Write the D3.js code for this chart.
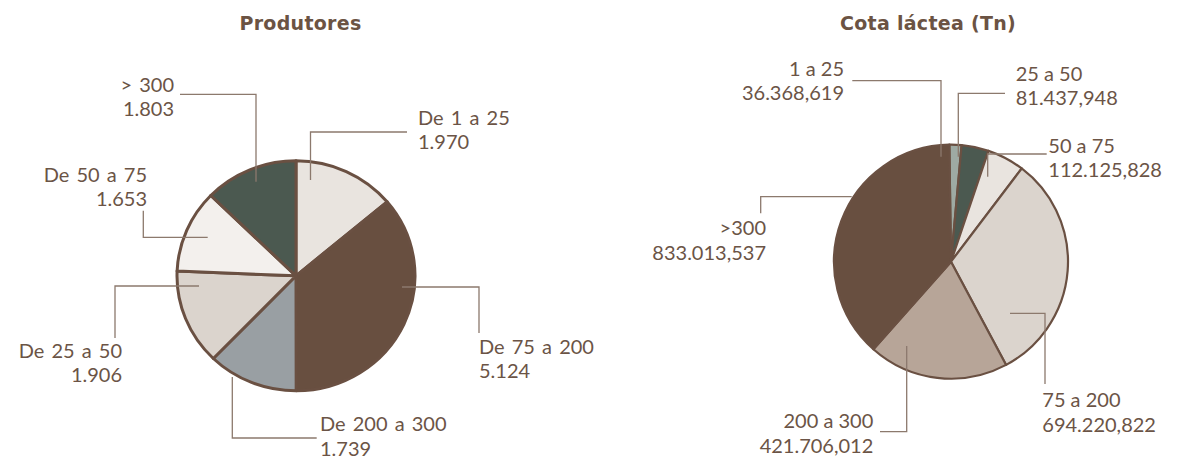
<!DOCTYPE html>
<html><head><meta charset="utf-8">
<script src="https://cdn.jsdelivr.net/npm/d3@7"></script>
<style>
html,body{margin:0;padding:0;background:#fff;}
svg{display:block;}
</style></head>
<body>
<svg id="chart" width="1193" height="458"></svg>
<script>
// ---------- data ----------
const prodTitle = "Produtores";
const prodCategories = ["De 1 a 25", "De 75 a 200", "De 200 a 300", "De 25 a 50", "De 50 a 75", "> 300"];
const prodValues = [1970, 5124, 1739, 1906, 1653, 1803];

const cotaTitle = "Cota láctea (Tn)";
const cotaCategories = ["1 a 25", "25 a 50", "50 a 75", "75 a 200", "200 a 300", ">300"];
const cotaValues = [36368.619, 81437.948, 112125.828, 694220.822, 421706.012, 833013.537];

// ---------- styles / layout ----------
const prodColors = ["#e9e4df", "#684f40", "#999fa3", "#dbd4cd", "#f3f0ed", "#4b5950"];
const cotaColors = ["#9eaaa3", "#4b5950", "#e9e4df", "#dbd4cd", "#b7a598", "#684f40"];
const textColor = "#6b5446";
const lineColor = "#8c796d";
const strokeColor = "#6a5042";

const ptLocale = d3.formatLocale({decimal: ",", thousands: ".", grouping: [3], currency: ["", ""]});
const fmtInt = ptLocale.format(",d");
const fmtDec = ptLocale.format(",.3f");

// leader lines & label anchors (annotation layout)
const prodLayout = [
  {pts: [[310.5,180],[310.5,132],[407,132]], x: 418, y: 124.5, anchor: "start"},
  {pts: [[402,287],[479,287],[479,333]], x: 479, y: 353.5, anchor: "start"},
  {pts: [[232.3,377],[232.3,438],[316.7,438]], x: 320, y: 431, anchor: "start"},
  {pts: [[199,286],[115,286],[115,338]], x: 122, y: 357.7, anchor: "end"},
  {pts: [[207.7,237.3],[143.3,237.3],[143.3,210.7]], x: 147, y: 181.7, anchor: "end"},
  {pts: [[256,181.7],[256,94.3],[180,94.3]], x: 174, y: 91.7, anchor: "end"}
];
const cotaLayout = [
  {pts: [[941,156.7],[941,80.7],[852.3,80.7]], x: 844, y: 75.7, anchor: "end"},
  {pts: [[958.3,156.7],[958.3,93.3],[1005,93.3]], x: 1015.7, y: 80.7, anchor: "start"},
  {pts: [[987.7,176.7],[987.7,154],[1046.7,154]], x: 1048.3, y: 152.7, anchor: "start"},
  {pts: [[1010,313.3],[1045,313.3],[1045,384]], x: 1042.3, y: 407.3, anchor: "start"},
  {pts: [[906.7,346],[906.7,431.7],[880,431.7]], x: 873.3, y: 428.3, anchor: "end"},
  {pts: [[851.7,196.7],[760.7,196.7],[760.7,213.3]], x: 766, y: 235, anchor: "end"}
];

const svg = d3.select("#chart");
const labelFont = "Lato, 'Open Sans', sans-serif";

function drawPie(cfg) {
  const g = svg.append("g")
    .attr("transform", `translate(${cfg.cx},${cfg.cy}) scale(1,${cfg.sy})`);
  const pie = d3.pie().sort(null).value(d => d.v)
    .startAngle(cfg.start).endAngle(cfg.start + 2 * Math.PI);
  const arc = d3.arc().innerRadius(0).outerRadius(cfg.r);
  const data = cfg.cats.map((c, i) => ({c, v: cfg.vals[i], i}));
  g.selectAll("path.slice").data(pie(data)).join("path")
    .attr("class", "slice")
    .attr("d", arc)
    .attr("fill", d => cfg.colors[d.data.i])
    .attr("stroke", strokeColor)
    .attr("stroke-width", cfg.sw)
    .attr("stroke-linejoin", "round")
    .attr("vector-effect", "non-scaling-stroke");

  // title
  svg.append("text")
    .attr("x", cfg.tx).attr("y", 30)
    .attr("text-anchor", "middle")
    .attr("font-family", "'DejaVu Sans', sans-serif")
    .attr("font-weight", 700)
    .attr("font-size", 19)
    .attr("letter-spacing", 0.3)
    .attr("fill", "#6b5343")
    .text(cfg.title);

  // leaders
  const line = d3.line();
  svg.append("g").selectAll("path").data(cfg.layout).join("path")
    .attr("d", d => line(d.pts))
    .attr("fill", "none")
    .attr("stroke", lineColor)
    .attr("stroke-width", 1.3);

  // labels
  const lg = svg.append("g");
  data.forEach((d, i) => {
    const L = cfg.layout[i];
    const t = lg.append("text")
      .attr("x", L.x).attr("y", L.y)
      .attr("text-anchor", L.anchor)
      .attr("font-family", labelFont)
      .attr("font-weight", 400)
      .attr("font-size", 20)
      .attr("fill", textColor);
    t.append("tspan").attr("x", L.x).attr("word-spacing", cfg.ws).text(d.c);
    t.append("tspan").attr("x", L.x).attr("dy", 24.5).text(cfg.fmt(d.v));
  });
}

drawPie({cx: 296, cy: 275.8, r: 119, sy: 115 / 119, start: 0.0, sw: 3, ws: 2,
  cats: prodCategories, vals: prodValues, colors: prodColors,
  layout: prodLayout, title: prodTitle, tx: 300.5, fmt: fmtInt});

drawPie({cx: 951, cy: 261.7, r: 117, sy: 1, start: -0.014, sw: 2.2, ws: 0,
  cats: cotaCategories, vals: cotaValues, colors: cotaColors,
  layout: cotaLayout, title: cotaTitle, tx: 928, fmt: fmtDec});
</script>
</body></html>
